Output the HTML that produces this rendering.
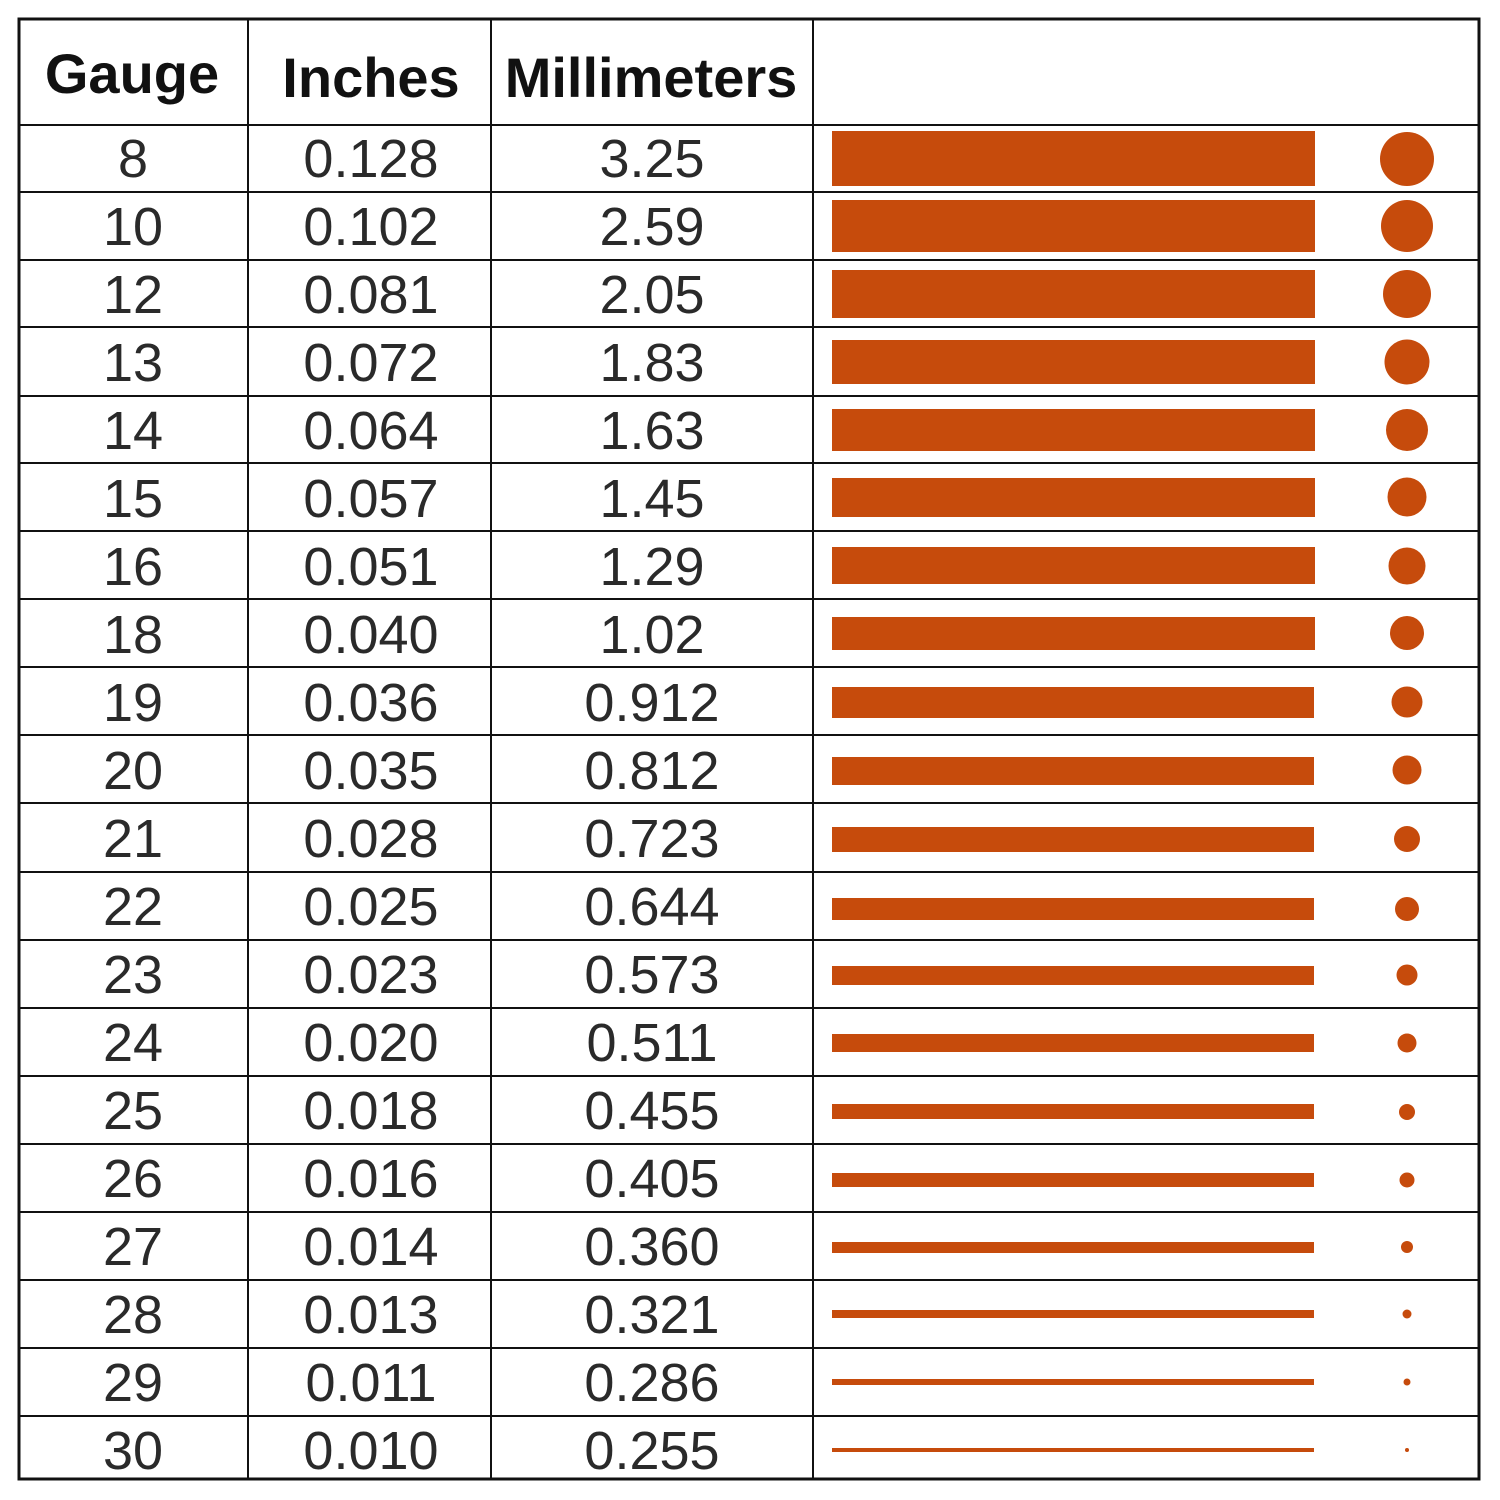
<!DOCTYPE html>
<html><head><style>
body{margin:0;background:#fff;width:1500px;height:1500px;position:relative;font-family:"Liberation Sans",Arial,sans-serif;}
.t{position:absolute;left:0;top:0}
</style></head><body>
<svg class="t" width="1500" height="1500" xmlns="http://www.w3.org/2000/svg">
<rect x="19" y="19" width="1460" height="1460" fill="#fff" stroke="#111" stroke-width="3"/>
<g stroke="#111" stroke-width="2">
<line x1="248" y1="19" x2="248" y2="1479"/>
<line x1="491" y1="19" x2="491" y2="1479"/>
<line x1="813" y1="19" x2="813" y2="1479"/>
<line x1="19" y1="125" x2="1479" y2="125"/>
<line x1="19" y1="192" x2="1479" y2="192"/>
<line x1="19" y1="260" x2="1479" y2="260"/>
<line x1="19" y1="327" x2="1479" y2="327"/>
<line x1="19" y1="396" x2="1479" y2="396"/>
<line x1="19" y1="463" x2="1479" y2="463"/>
<line x1="19" y1="531" x2="1479" y2="531"/>
<line x1="19" y1="599" x2="1479" y2="599"/>
<line x1="19" y1="667" x2="1479" y2="667"/>
<line x1="19" y1="735" x2="1479" y2="735"/>
<line x1="19" y1="803" x2="1479" y2="803"/>
<line x1="19" y1="872" x2="1479" y2="872"/>
<line x1="19" y1="940" x2="1479" y2="940"/>
<line x1="19" y1="1008" x2="1479" y2="1008"/>
<line x1="19" y1="1076" x2="1479" y2="1076"/>
<line x1="19" y1="1144" x2="1479" y2="1144"/>
<line x1="19" y1="1212" x2="1479" y2="1212"/>
<line x1="19" y1="1280" x2="1479" y2="1280"/>
<line x1="19" y1="1348" x2="1479" y2="1348"/>
<line x1="19" y1="1416" x2="1479" y2="1416"/>
</g>
<g font-family="Liberation Sans, Arial, sans-serif" font-weight="bold" font-size="56" fill="#111" text-anchor="middle">
<text x="132" y="93">Gauge</text>
<text x="371" y="97">Inches</text>
<text x="651" y="97">Millimeters</text>
</g>
<g font-family="Liberation Sans, Arial, sans-serif" font-size="54" fill="#2a2a2a" text-anchor="middle">
<text x="133" y="177">8</text><text x="371" y="177">0.128</text><text x="652" y="177">3.25</text>
<text x="133" y="245">10</text><text x="371" y="245">0.102</text><text x="652" y="245">2.59</text>
<text x="133" y="313">12</text><text x="371" y="313">0.081</text><text x="652" y="313">2.05</text>
<text x="133" y="381">13</text><text x="371" y="381">0.072</text><text x="652" y="381">1.83</text>
<text x="133" y="449">14</text><text x="371" y="449">0.064</text><text x="652" y="449">1.63</text>
<text x="133" y="517">15</text><text x="371" y="517">0.057</text><text x="652" y="517">1.45</text>
<text x="133" y="585">16</text><text x="371" y="585">0.051</text><text x="652" y="585">1.29</text>
<text x="133" y="653">18</text><text x="371" y="653">0.040</text><text x="652" y="653">1.02</text>
<text x="133" y="721">19</text><text x="371" y="721">0.036</text><text x="652" y="721">0.912</text>
<text x="133" y="789">20</text><text x="371" y="789">0.035</text><text x="652" y="789">0.812</text>
<text x="133" y="857">21</text><text x="371" y="857">0.028</text><text x="652" y="857">0.723</text>
<text x="133" y="925">22</text><text x="371" y="925">0.025</text><text x="652" y="925">0.644</text>
<text x="133" y="993">23</text><text x="371" y="993">0.023</text><text x="652" y="993">0.573</text>
<text x="133" y="1061">24</text><text x="371" y="1061">0.020</text><text x="652" y="1061">0.511</text>
<text x="133" y="1129">25</text><text x="371" y="1129">0.018</text><text x="652" y="1129">0.455</text>
<text x="133" y="1197">26</text><text x="371" y="1197">0.016</text><text x="652" y="1197">0.405</text>
<text x="133" y="1265">27</text><text x="371" y="1265">0.014</text><text x="652" y="1265">0.360</text>
<text x="133" y="1333">28</text><text x="371" y="1333">0.013</text><text x="652" y="1333">0.321</text>
<text x="133" y="1401">29</text><text x="371" y="1401">0.011</text><text x="652" y="1401">0.286</text>
<text x="133" y="1469">30</text><text x="371" y="1469">0.010</text><text x="652" y="1469">0.255</text>
</g>
<g fill="#c64b0c">
<rect x="832" y="131" width="483" height="55"/><circle cx="1407" cy="159" r="27"/>
<rect x="832" y="200" width="483" height="52"/><circle cx="1407" cy="226" r="26"/>
<rect x="832" y="270" width="483" height="48"/><circle cx="1407" cy="294" r="24"/>
<rect x="832" y="340" width="483" height="44"/><circle cx="1407" cy="362" r="22.5"/>
<rect x="832" y="409" width="483" height="42"/><circle cx="1407" cy="430" r="21"/>
<rect x="832" y="478" width="483" height="39"/><circle cx="1407" cy="497" r="19.5"/>
<rect x="832" y="547" width="483" height="37"/><circle cx="1407" cy="566" r="18.5"/>
<rect x="832" y="617" width="483" height="33"/><circle cx="1407" cy="633" r="17"/>
<rect x="832" y="687" width="482" height="31"/><circle cx="1407" cy="702" r="15.5"/>
<rect x="832" y="757" width="482" height="28"/><circle cx="1407" cy="770" r="14.5"/>
<rect x="832" y="827" width="482" height="25"/><circle cx="1407" cy="839" r="13"/>
<rect x="832" y="898" width="482" height="22"/><circle cx="1407" cy="909" r="12"/>
<rect x="832" y="966" width="482" height="19"/><circle cx="1407" cy="975" r="10.5"/>
<rect x="832" y="1034" width="482" height="18"/><circle cx="1407" cy="1043" r="9.5"/>
<rect x="832" y="1104" width="482" height="15"/><circle cx="1407" cy="1112" r="8"/>
<rect x="832" y="1173" width="482" height="14"/><circle cx="1407" cy="1180" r="7.5"/>
<rect x="832" y="1242" width="482" height="11"/><circle cx="1407" cy="1247" r="6"/>
<rect x="832" y="1310" width="482" height="8"/><circle cx="1407" cy="1314" r="4.5"/>
<rect x="832" y="1379" width="482" height="6"/><circle cx="1407" cy="1382" r="3.5"/>
<rect x="832" y="1448" width="482" height="4"/><circle cx="1407" cy="1450" r="2"/>
</g>
</svg>
</body></html>
